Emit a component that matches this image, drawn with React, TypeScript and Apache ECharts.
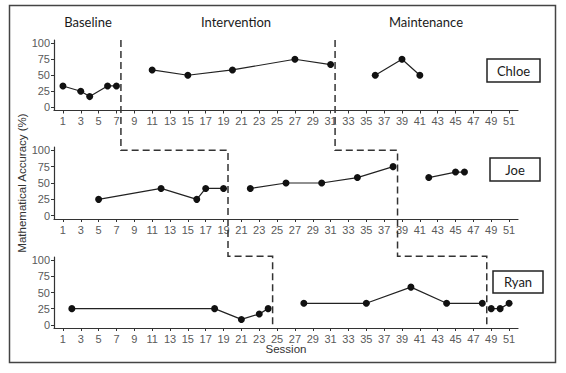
import React, { useEffect, useRef } from "react";
import * as echarts from "echarts";

const sessionTicks = [1, 3, 5, 7, 9, 11, 13, 15, 17, 19, 21, 23, 25, 27, 29, 31, 33, 35, 37, 39, 41, 43, 45, 47, 49, 51];
const accuracyTicks = [0, 25, 50, 75, 100];
const phaseNames = ["Baseline", "Intervention", "Maintenance"];
const studentNames = ["Chloe", "Joe", "Ryan"];

const chloeSessions = [1, 3, 4, 6, 7, 11, 15, 20, 27, 31, 36, 39, 41];
const chloeAccuracy = [33.3, 25, 16.7, 33.3, 33.3, 58.3, 50, 58.3, 75, 66.7, 50, 75, 50];
const chloePhaseChanges = [7.5, 31.5];

const joeSessions = [5, 12, 16, 17, 19, 22, 26, 30, 34, 38, 42, 45, 46];
const joeAccuracy = [25, 41.7, 25, 41.7, 41.7, 41.7, 50, 50, 58.3, 75, 58.3, 66.7, 66.7];
const joePhaseChanges = [19.5, 38.5];

const ryanSessions = [2, 18, 21, 23, 24, 28, 35, 40, 44, 48, 49, 50, 51];
const ryanAccuracy = [25, 25, 8.3, 16.7, 25, 33.3, 33.3, 58.3, 33.3, 33.3, 25, 25, 33.3];
const ryanPhaseChanges = [24.5, 48.5];

export default function App() {
  const ref = useRef<HTMLDivElement>(null);
  useEffect(() => {
    const chart = echarts.init(ref.current!, null, { renderer: "svg" });
    const students = [
      { sessions: chloeSessions, acc: chloeAccuracy, changes: chloePhaseChanges },
      { sessions: joeSessions, acc: joeAccuracy, changes: joePhaseChanges },
      { sessions: ryanSessions, acc: ryanAccuracy, changes: ryanPhaseChanges },
    ];
    const gridPos = [
      { top: 40, height: 70.5 },
      { top: 147, height: 72 },
      { top: 257, height: 71 },
    ];
    const grid = gridPos.map((g) => ({ left: 54, width: 464, top: g.top, height: g.height, outerBoundsMode: "none" }));
    const axisFont = "Liberation Sans, Arial, sans-serif";
    const xAxis = gridPos.map((_, i) => ({
      type: "value",
      gridIndex: i,
      min: 0,
      max: 52,
      axisLine: { show: true, onZero: false, lineStyle: { color: "#333", width: 1.2 } },
      axisTick: { show: true, length: 3, customValues: sessionTicks, lineStyle: { color: "#333" } },
      axisLabel: { customValues: sessionTicks, color: "#5a5a5a", fontSize: 11, fontFamily: axisFont, margin: 5 },
      splitLine: { show: false },
    }));
    const yAxis = gridPos.map((_, i) => ({
      type: "value",
      gridIndex: i,
      min: -5,
      max: 105,
      axisLine: { show: true, onZero: false, lineStyle: { color: "#333", width: 1.2 } },
      axisTick: { show: true, length: 3, customValues: accuracyTicks, lineStyle: { color: "#333" } },
      axisLabel: { customValues: accuracyTicks, color: "#5a5a5a", fontSize: 11, fontFamily: axisFont, margin: 4 },
      splitLine: { show: false },
    }));
    const series: any[] = [];
    students.forEach((s, i) => {
      const bounds = [-Infinity, ...s.changes, Infinity];
      for (let p = 0; p < 3; p++) {
        const data: number[][] = [];
        s.sessions.forEach((x, k) => {
          if (x > bounds[p] && x < bounds[p + 1]) data.push([x, s.acc[k]]);
        });
        series.push({
          type: "line",
          name: studentNames[i] + " " + phaseNames[p],
          xAxisIndex: i,
          yAxisIndex: i,
          data,
          symbol: "circle",
          symbolSize: 7,
          itemStyle: { color: "#111" },
          lineStyle: { color: "#222", width: 1.2 },
        });
      }
    });
    chart.setOption({
      animation: false,
      backgroundColor: "#fff",
      grid,
      xAxis,
      yAxis,
      series,
    });

    const px = (g: number, v: number[]) => chart.convertToPixel({ gridIndex: g } as any, v) as number[];
    const graphic: any[] = [];
    graphic.push({
      type: "rect",
      shape: { x: 9.5, y: 5.5, width: 546, height: 357 },
      style: { fill: "none", stroke: "#444", lineWidth: 1.5 },
      z: 1,
    });
    for (let k = 0; k < 2; k++) {
      const c0 = chloePhaseChanges[k];
      const c1 = joePhaseChanges[k];
      const c2 = ryanPhaseChanges[k];
      const pts = [
        px(0, [c0, 105]),
        px(1, [c0, 100]),
        px(1, [c1, 100]),
        px(2, [c1, 106]),
        px(2, [c2, 106]),
        px(2, [c2, -5]),
      ];
      graphic.push({
        type: "polyline",
        shape: { points: pts },
        style: { fill: null, stroke: "#333", lineWidth: 1.5, lineDash: [7, 4] },
        z: 10,
      });
    }
    const labelFont = "Lato, 'Open Sans', sans-serif";
    const phaseX = [88, 236, 426];
    phaseNames.forEach((n, i) => {
      graphic.push({
        type: "text",
        x: phaseX[i],
        y: 22,
        style: { text: n, fill: "#1a1a1a", font: "13px " + labelFont, textAlign: "center", textVerticalAlign: "middle" },
        z: 10,
      });
    });
    const boxes = [
      { x: 487, y: 59, w: 53, h: 23 },
      { x: 490, y: 158, w: 50, h: 23 },
      { x: 493, y: 271, w: 50, h: 22 },
    ];
    boxes.forEach((b, i) => {
      graphic.push({
        type: "rect",
        shape: { x: b.x, y: b.y, width: b.w, height: b.h },
        style: { fill: "#fff", stroke: "#222", lineWidth: 1.5 },
        z: 10,
      });
      graphic.push({
        type: "text",
        x: b.x + b.w / 2,
        y: b.y + b.h / 2,
        style: { text: studentNames[i], fill: "#1a1a1a", font: "13px " + labelFont, textAlign: "center", textVerticalAlign: "middle" },
        z: 11,
      });
    });
    graphic.push({
      type: "text",
      x: 22,
      y: 183,
      rotation: Math.PI / 2,
      style: { text: "Mathematical Accuracy (%)", fill: "#333", font: "11.5px " + axisFont, textAlign: "center", textVerticalAlign: "middle" },
      z: 10,
    });
    graphic.push({
      type: "text",
      x: 286,
      y: 349,
      style: { text: "Session", fill: "#333", font: "11.5px " + axisFont, textAlign: "center", textVerticalAlign: "middle" },
      z: 10,
    });
    chart.setOption({ graphic });
    return () => chart.dispose();
  }, []);
  return <div ref={ref} style={{ position: "fixed", left: 0, top: 0, width: 566, height: 373 }} />;
}
